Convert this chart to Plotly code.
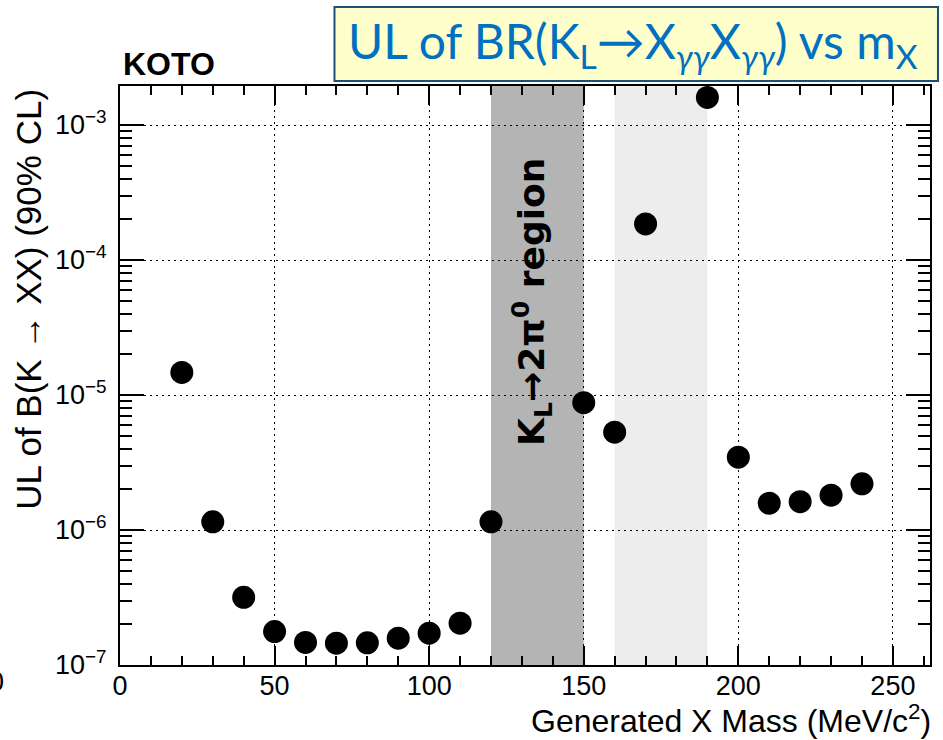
import plotly.graph_objects as go

# Upper limits on BR(K -> XX) at 90% CL versus generated X mass
mass_mev = [20, 30, 40, 50, 60, 70, 80, 90, 100, 110, 120,
            150, 160, 170, 190, 200, 210, 220, 230, 240]
ul_br = [1.47e-5, 1.15e-6, 3.17e-7, 1.77e-7, 1.47e-7, 1.45e-7, 1.46e-7,
         1.58e-7, 1.72e-7, 2.04e-7, 1.15e-6,
         8.77e-6, 5.3e-6, 1.85e-4, 1.6e-3, 3.46e-6, 1.58e-6, 1.62e-6,
         1.81e-6, 2.2e-6]

# Mass windows shaded on the plot
pi0pi0_window = [120, 150]
excluded_window = [160, 190]

x_major = [0, 50, 100, 150, 200, 250]
y_exponents = [-7, -6, -5, -4, -3]
y_major = [10.0 ** e for e in y_exponents]
y_labels = ["10<sup>\u2212%d</sup>" % (-e) for e in y_exponents]
y_minor = [k * 10.0 ** e for e in y_exponents for k in range(2, 10)]

W, H = 943, 740
L, R, T, B = 120, 932, 86, 665


def px(xp):
    return (xp - L) / (R - L)


def py(yp):
    return (B - yp) / (B - T)


fig = go.Figure()

fig.add_trace(go.Scatter(
    x=mass_mev, y=ul_br, mode="markers",
    marker=dict(size=23, color="black", line=dict(width=0)),
    showlegend=False, hoverinfo="x+y",
))

fig.add_shape(type="rect", xref="x", yref="paper",
              x0=pi0pi0_window[0], x1=pi0pi0_window[1], y0=0, y1=1,
              fillcolor="#b4b4b4", line=dict(width=0), layer="below")
fig.add_shape(type="rect", xref="x", yref="paper",
              x0=excluded_window[0], x1=excluded_window[1], y0=0, y1=1,
              fillcolor="#ededed", line=dict(width=0), layer="below")

# Slide-style headline box
fig.add_shape(type="rect", xref="paper", yref="paper",
              x0=px(335), x1=px(940), y0=py(81), y1=py(7),
              fillcolor="#ffffcc", line=dict(color="#1f4e79", width=2))

tick_font = dict(family="Liberation Sans, Arial, sans-serif", size=27, color="black")

fig.update_xaxes(
    range=[0, 262], tickmode="array", tickvals=x_major, ticks="inside",
    ticklen=19, tickwidth=1.5, tickcolor="black",
    showline=True, linecolor="black", linewidth=2,
    mirror="ticks", showgrid=True, gridcolor="black", gridwidth=1,
    griddash="2px,4px", zeroline=False, tickfont=tick_font,
    ticklabelstandoff=-4,
    minor=dict(tickmode="linear", dtick=10, tick0=0, ticks="inside", ticklen=9,
               tickcolor="black", tickwidth=1.5, showgrid=False),
)
fig.update_yaxes(
    type="log", range=[-7, -2.711], tickmode="array", tickvals=y_major,
    ticktext=y_labels, ticks="inside", ticklen=24, tickwidth=1.5,
    tickcolor="black", showline=True, linecolor="black", linewidth=2,
    mirror="ticks", showgrid=True, gridcolor="black", gridwidth=1,
    griddash="2px,4px", zeroline=False, tickfont=tick_font,
    ticklabelstandoff=6,
    minor=dict(tickmode="array", tickvals=y_minor, ticks="inside", ticklen=12,
               tickcolor="black", tickwidth=1.5, showgrid=False),
)

annotations = [
    dict(text="UL of BR(K<sub>L</sub>\u2192X<sub><i>\u03b3\u03b3</i></sub>X<sub><i>\u03b3\u03b3</i></sub>) vs m<sub>X</sub>",
         x=px(634), y=py(44), xanchor="center", yanchor="middle",
         font=dict(family="Lato, Open Sans, sans-serif", size=48, color="#0070c0")),
    dict(text="<b>KOTO</b>", x=px(121), y=py(64), xanchor="left", yanchor="middle",
         font=dict(family="Liberation Sans, Arial, sans-serif", size=32, color="black")),
    dict(text="<b>K<sub>L</sub>\u21922\u03c0<sup>0</sup> region</b>",
         x=px(533), y=py(302), xanchor="center", yanchor="middle", textangle=-90,
         font=dict(family="DejaVu Sans, sans-serif", size=36, color="black")),
    dict(text="UL of B(K \u2192 XX) (90% CL)", x=px(28), y=py(87),
         xanchor="center", yanchor="top", textangle=-90,
         font=dict(family="Liberation Sans, Arial, sans-serif", size=35, color="black")),
    dict(text="Generated X Mass (MeV/c<sup>2</sup>)", x=px(935), y=py(719),
         xanchor="right", yanchor="middle",
         font=dict(family="Liberation Sans, Arial, sans-serif", size=32, color="black")),
    dict(text="0", x=px(5.5), y=py(682), xanchor="right", yanchor="middle",
         font=dict(family="Liberation Sans, Arial, sans-serif", size=27, color="black")),
]
for a in annotations:
    a.update(xref="paper", yref="paper", showarrow=False)
fig.update_layout(annotations=annotations)

fig.update_layout(
    width=W, height=H,
    margin=dict(l=L, r=W - R, t=T, b=H - B, pad=0),
    paper_bgcolor="white", plot_bgcolor="white",
    showlegend=False,
)

fig.write_html("out.html")
